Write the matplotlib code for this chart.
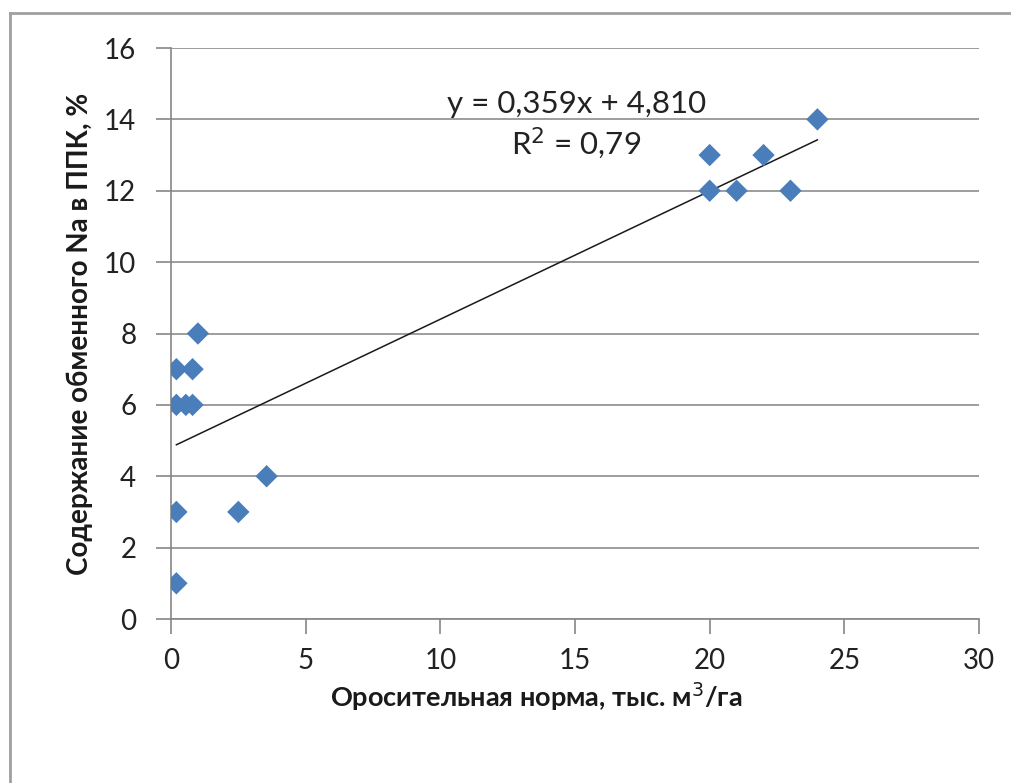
import matplotlib
matplotlib.use("Agg")
import matplotlib.pyplot as plt
from matplotlib.lines import Line2D
import numpy as np

plt.rcParams['font.family'] = ['Lato', 'DejaVu Sans']

x_vals = [0.2, 0.2, 0.2, 0.2, 0.55, 0.8, 0.8, 1.0, 2.5, 3.55, 20, 20, 21, 22, 23, 24]
y_vals = [1, 3, 6, 7, 6, 6, 7, 8, 3, 4, 12, 13, 12, 13, 12, 14]
slope = 0.359
intercept = 4.810
r2_text = "0,79"
x_ticks = [0, 5, 10, 15, 20, 25, 30]
y_ticks = [0, 2, 4, 6, 8, 10, 12, 14, 16]
x_label = "Оросительная норма, тыс. м$^3$/га"
y_label = "Содержание обменного Na в ППК, %"

W, H = 1012, 783
fig = plt.figure(figsize=(W / 100, H / 100), dpi=100)
ax = fig.add_axes([171 / W, 1 - 619 / H, (979 - 171) / W, (619 - 48) / H])

ax.set_xlim(0, 30)
ax.set_ylim(0, 16)
ax.set_xticks(x_ticks)
ax.set_yticks(y_ticks)
ax.yaxis.grid(True, color='#8c8c8c', linewidth=1.2)
ax.set_axisbelow(True)
for s in ['top', 'right']:
    ax.spines[s].set_visible(False)
for s in ['left', 'bottom']:
    ax.spines[s].set_color('#868686')
    ax.spines[s].set_linewidth(1.2)
ax.tick_params(axis='both', which='major', length=11, width=1.2, color='#868686',
               labelsize=20, labelcolor='#222222', direction='out')
ax.tick_params(axis='y', pad=14)
ax.tick_params(axis='x', pad=10)

ax.scatter(x_vals, y_vals, marker='D', s=130, color='#4a7ebb', zorder=3, edgecolors='none')

xl = np.array([min(x_vals), max(x_vals)])
ax.plot(xl, slope * xl + intercept, color='#1a1a1a', linewidth=1.1, zorder=2)

ax.text(15.04, 14.17, "y = 0,359x + 4,810", fontsize=22.5, ha='center', va='baseline', color='#222222')
ax.text(15.04, 13.02, "R$^2$ = " + r2_text, fontsize=22.5, ha='center', va='baseline', color='#222222')

ax.set_xlabel(x_label, fontsize=19.5, fontweight='bold', color='#1a1a1a')
ax.xaxis.set_label_coords(0.452, -0.108)
ax.xaxis.label.set_va('top')
ax.set_ylabel(y_label, fontsize=20, fontweight='bold', color='#1a1a1a')
ax.yaxis.set_label_coords(-0.113, 0.5)
ax.yaxis.label.set_va('center')

# chart border (top and left visible)
fig.add_artist(Line2D([10 / W, 10 / W], [0, 1 - 13 / H], transform=fig.transFigure,
                      color='#a0a0a0', linewidth=2))
fig.add_artist(Line2D([10 / W, 1], [1 - 13 / H, 1 - 13 / H], transform=fig.transFigure,
                      color='#a0a0a0', linewidth=2))

fig.savefig("out.png", dpi=100)
